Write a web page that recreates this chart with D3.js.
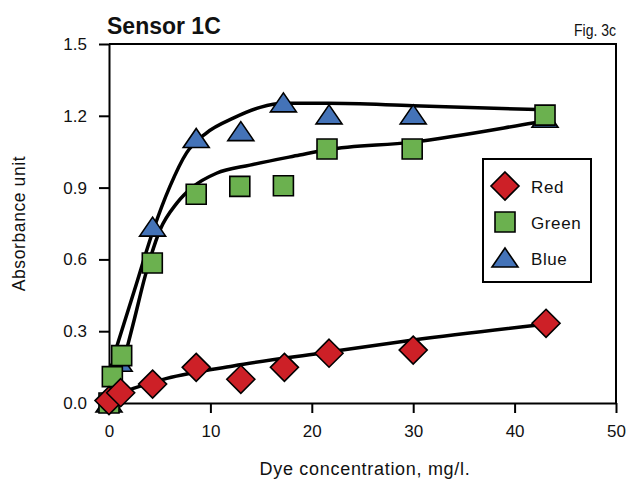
<!DOCTYPE html>
<html>
<head>
<meta charset="utf-8">
<script src="https://cdn.jsdelivr.net/npm/d3@7"></script>
<style>
  body { margin: 0; background: #fff; }
  svg text { font-family: "Liberation Sans", Arial, sans-serif; fill: #111; }
</style>
</head>
<body>
<svg id="chart" width="628" height="479"></svg>
<script>
// measured points (dye conc mg/l, absorbance)
const redX   = [0, 1.15, 4.3, 8.6, 13.0, 17.3, 21.7, 30.0, 43.1];
const redY   = [0.01, 0.043, 0.079, 0.149, 0.099, 0.149, 0.208, 0.221, 0.333];
const greenX = [0, 0.33, 1.25, 4.27, 8.6, 12.9, 17.2, 21.5, 29.9, 43.0];
const greenY = [0, 0.11, 0.198, 0.585, 0.872, 0.905, 0.908, 1.061, 1.061, 1.203];
const blueX  = [0, 1.0, 4.3, 8.6, 13.0, 17.2, 21.7, 30.0, 43.0];
const blueY  = [0, 0.17, 0.735, 1.105, 1.134, 1.254, 1.204, 1.204, 1.19];

// fitted curves
const redFitX   = [1.0, 2.4, 5.7, 12.25, 20.8, 30.0, 43.2];
const redFitY   = [0.04, 0.061, 0.103, 0.155, 0.208, 0.263, 0.33];
const greenFitX = [1.6, 2.5, 3.55, 5.03, 6.67, 8.3, 10.6, 13.9, 18.8, 21.5, 29.9, 41.8, 43.2];
const greenFitY = [0.2, 0.35, 0.528, 0.723, 0.834, 0.904, 0.96, 0.994, 1.036, 1.058, 1.09, 1.17, 1.18];
const blueFitX  = [0.5, 2.5, 4.37, 6.0, 7.65, 9.6, 12.25, 14.9, 17.2, 21.6, 30.0, 43.2];
const blueFitY  = [0.2, 0.47, 0.723, 0.904, 1.045, 1.128, 1.19, 1.235, 1.252, 1.252, 1.242, 1.225];

const xTicks = [0, 10, 20, 30, 40, 50];
const yTicks = [0, 0.3, 0.6, 0.9, 1.2, 1.5];
const seriesNames = ["Red", "Green", "Blue"];
const colors = {Red: "#cd2027", Green: "#6bb14f", Blue: "#4473b8"};

const svg = d3.select("#chart");
const pLeft = 109, pRight = 616, pTop = 44, pBottom = 403;

const x = d3.scaleLinear().domain([0, 50]).range([pLeft, pRight]);
const y = d3.scaleLinear().domain([0, 1.5]).range([pBottom, pTop]);

// marker shapes
function markerPath(name) {
  if (name == "Red") return "M0,-14L14,0L0,14L-14,0Z";
  if (name == "Green") return "M-10,-10H10V10H-10Z";
  return "M0,-10L13,9H-13Z";
}

// frame top + right
svg.append("path")
  .attr("d", "M" + pLeft + "," + pTop + "H" + pRight + "V" + pBottom)
  .attr("fill", "none").attr("stroke", "#000").attr("stroke-width", 2);

const xAxis = svg.append("g")
  .attr("transform", "translate(0," + pBottom + ")")
  .call(d3.axisBottom(x).tickValues(xTicks).tickSize(10).tickPadding(12).tickSizeOuter(0));
const yAxis = svg.append("g")
  .attr("transform", "translate(" + pLeft + ",0)")
  .call(d3.axisLeft(y).tickValues(yTicks).tickFormat(d3.format(".1f")).tickSize(10).tickPadding(12).tickSizeOuter(0));

[xAxis, yAxis].forEach(a => {
  a.select(".domain").attr("stroke-width", 2);
  a.selectAll(".tick line").attr("stroke-width", 2);
  a.selectAll("text").style("font-size", "17px").attr("fill", "#111");
});

// fit lines
const line = d3.line().x(d => x(d[0])).y(d => y(d[1])).curve(d3.curveMonotoneX);
const fits = [
  d3.zip(blueFitX, blueFitY),
  d3.zip(greenFitX, greenFitY),
  d3.zip(redFitX, redFitY)
];
svg.append("g").selectAll("path")
  .data(fits)
  .enter().append("path")
    .attr("d", line)
    .attr("fill", "none")
    .attr("stroke", "#000")
    .attr("stroke-width", 3.5);

// markers, blue underneath, red on top
const pts = [
  {name: "Blue", data: d3.zip(blueX, blueY)},
  {name: "Green", data: d3.zip(greenX, greenY)},
  {name: "Red", data: d3.zip(redX, redY)}
];
pts.forEach(s => {
  svg.append("g").selectAll("path")
    .data(s.data)
    .enter().append("path")
      .attr("d", markerPath(s.name))
      .attr("transform", d => "translate(" + x(d[0]) + "," + y(d[1]) + ")")
      .attr("fill", colors[s.name])
      .attr("stroke", "#000")
      .attr("stroke-width", 1.6);
});

// legend
const lg = svg.append("g").attr("transform", "translate(483,159)");
lg.append("rect").attr("width", 108).attr("height", 123)
  .attr("fill", "#fff").attr("stroke", "#000").attr("stroke-width", 2);
seriesNames.forEach((n, i) => {
  const row = lg.append("g").attr("transform", "translate(0," + (27 + i * 36) + ")");
  row.append("path").attr("d", markerPath(n))
    .attr("transform", "translate(22,0)")
    .attr("fill", colors[n]).attr("stroke", "#000").attr("stroke-width", 1.6);
  row.append("text").attr("x", 48).attr("y", 7)
    .style("font-size", "17px").style("letter-spacing", "0.6px").text(n);
});

// titles
svg.append("text").attr("x", 107).attr("y", 34)
  .style("font-size", "23px").style("font-weight", "bold").text("Sensor 1C");
svg.append("text").attr("x", 574).attr("y", 36)
  .attr("textLength", 42).attr("lengthAdjust", "spacingAndGlyphs")
  .style("font-size", "17px")
  .text("Fig. 3c");

svg.append("text")
  .attr("transform", "translate(25," + (pTop + pBottom) / 2 + ") rotate(-90)")
  .attr("text-anchor", "middle").style("font-size", "17.5px")
  .style("letter-spacing", "0.6px")
  .text("Absorbance unit");
svg.append("text").attr("x", 365).attr("y", 475)
  .attr("text-anchor", "middle").style("font-size", "18px")
  .style("letter-spacing", "0.7px")
  .text("Dye concentration, mg/l.");
</script>
</body>
</html>
